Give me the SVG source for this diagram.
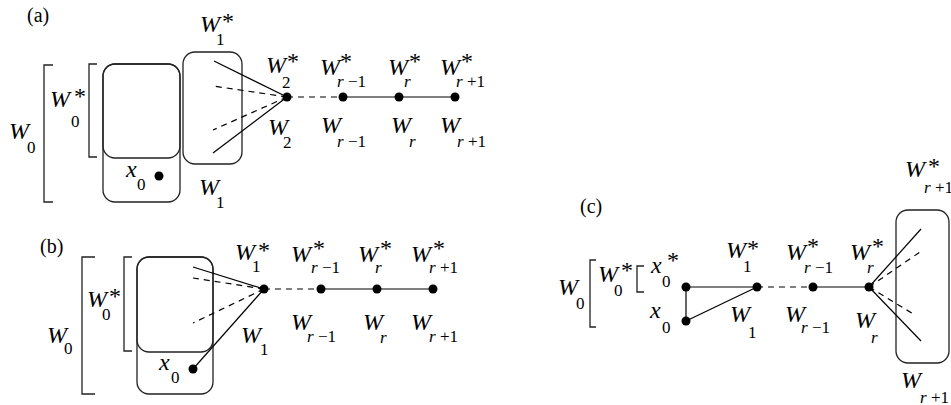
<svg xmlns="http://www.w3.org/2000/svg" width="951" height="405" viewBox="0 0 951 405">
<style>
text{font-family:"Liberation Serif","Times New Roman",serif;fill:#000}
.W{font-size:24px;font-style:italic}
.s{font-size:17px}
.i{font-style:italic}
.st{font-size:24px}
.lb{font-size:20px}
.box{fill:none;stroke:#222;stroke-width:1.3}
.br{fill:none;stroke:#222;stroke-width:1.3}
.ln{fill:none;stroke:#000;stroke-width:1.2}
.d{stroke-dasharray:6,5}
.dot{fill:#000}
</style>
<rect width="951" height="405" fill="#fff"/>

<!-- (a) -->
<text class="lb" x="27" y="22">(a)</text>
<g id="a-brackets">
<path class="br" d="M53,65H44V202H53"/>
<path class="br" d="M97,64H89V157H97"/>
<text class="W" x="9" y="139">W</text><text class="s" x="27" y="153">0</text>
<text class="W" x="50" y="107">W</text><text class="st" x="74" y="104">*</text><text class="s" x="71" y="127">0</text>
</g>
<g id="a-W0">
<rect class="box" x="103" y="64" width="77" height="138" rx="12"/>
<rect class="box" x="103" y="64" width="77" height="94" rx="12"/>
</g>
<g id="a-x0">
<circle class="dot" cx="159" cy="176" r="4.5"/>
<text class="W" x="126" y="177">x</text><text class="s" x="137" y="190">0</text>
</g>
<g id="a-W1">
<rect class="box" x="183" y="52" width="59" height="112" rx="12"/>
<text class="W" x="200" y="32">W</text><text class="st" x="222" y="29">*</text><text class="s" x="216" y="45">1</text>
<text class="W" x="199" y="195">W</text><text class="s" x="216" y="208">1</text>
</g>
<g id="a-W2">
<circle class="dot" cx="287" cy="97" r="4.5"/>
<text class="W" x="266" y="73">W</text><text class="st" x="287" y="69">*</text><text class="s" x="282" y="88">2</text>
<text class="W" x="268" y="135">W</text><text class="s" x="283" y="148">2</text>
</g>
<g id="a-Wr-1">
<circle class="dot" cx="343" cy="97" r="4.5"/>
<text class="W" x="320" y="75">W</text><text class="st" x="340" y="69">*</text><text class="s" x="337" y="87"><tspan class="i">r</tspan> −1</text>
<text class="W" x="321" y="133">W</text><text class="s" x="337" y="147"><tspan class="i">r</tspan> −1</text>
</g>
<g id="a-Wr">
<circle class="dot" cx="399" cy="97" r="4.5"/>
<text class="W" x="388" y="75">W</text><text class="st" x="409" y="69">*</text><text class="s i" x="404" y="87">r</text>
<text class="W" x="391" y="133">W</text><text class="s i" x="409" y="147">r</text>
</g>
<g id="a-Wr+1">
<circle class="dot" cx="455" cy="97" r="4.5"/>
<text class="W" x="440" y="75">W</text><text class="st" x="461" y="69">*</text><text class="s" x="456" y="87"><tspan class="i">r</tspan> +1</text>
<text class="W" x="440" y="133">W</text><text class="s" x="457" y="147"><tspan class="i">r</tspan> +1</text>
</g>

<!-- (b) -->
<text class="lb" x="40" y="253">(b)</text>
<g id="b-brackets">
<path class="br" d="M95,257H82V394H95"/>
<path class="br" d="M132,257H124V351H132"/>
<text class="W" x="47" y="343">W</text><text class="s" x="64" y="354">0</text>
<text class="W" x="87" y="307">W</text><text class="st" x="109" y="304">*</text><text class="s" x="102" y="320">0</text>
</g>
<g id="b-W0">
<rect class="box" x="137" y="257" width="76" height="137" rx="12"/>
<rect class="box" x="137" y="257" width="76" height="95" rx="12"/>
</g>
<g id="b-x0">
<circle class="dot" cx="193" cy="369" r="4.5"/>
<text class="W" x="159" y="370">x</text><text class="s" x="171" y="383">0</text>
</g>
<g id="b-W1">
<circle class="dot" cx="264" cy="289" r="4.5"/>
<text class="W" x="235" y="260">W</text><text class="st" x="258" y="258">*</text><text class="s" x="252" y="272">1</text>
<text class="W" x="241" y="343">W</text><text class="s" x="260" y="355">1</text>
</g>
<g id="b-Wr-1">
<circle class="dot" cx="321" cy="289" r="4.5"/>
<text class="W" x="291" y="262">W</text><text class="st" x="313" y="256">*</text><text class="s" x="311" y="273"><tspan class="i">r</tspan> −1</text>
<text class="W" x="291" y="330">W</text><text class="s" x="307" y="342"><tspan class="i">r</tspan> −1</text>
</g>
<g id="b-Wr">
<circle class="dot" cx="377" cy="289" r="4.5"/>
<text class="W" x="358" y="262">W</text><text class="st" x="380" y="256">*</text><text class="s i" x="375" y="273">r</text>
<text class="W" x="363" y="330">W</text><text class="s i" x="380" y="343">r</text>
</g>
<g id="b-Wr+1">
<circle class="dot" cx="433" cy="289" r="4.5"/>
<text class="W" x="411" y="262">W</text><text class="st" x="433" y="256">*</text><text class="s" x="429" y="273"><tspan class="i">r</tspan> +1</text>
<text class="W" x="411" y="330">W</text><text class="s" x="429" y="342"><tspan class="i">r</tspan> +1</text>
</g>

<!-- (c) -->
<text class="lb" x="580" y="213">(c)</text>
<g id="c-brackets">
<path class="br" d="M596,260H590V327H596"/>
<path class="br" d="M644,266H637V292H644"/>
<text class="W" x="558" y="295">W</text><text class="s" x="576" y="309">0</text>
<text class="W" x="598" y="282">W</text><text class="st" x="621" y="278">*</text><text class="s" x="614" y="296">0</text>
</g>
<g id="c-x0s">
<circle class="dot" cx="686" cy="287" r="4.5"/>
<text class="W" x="651" y="273">x</text><text class="st" x="667" y="268">*</text><text class="s" x="662" y="287">0</text>
</g>
<g id="c-x0">
<circle class="dot" cx="686" cy="321" r="4.5"/>
<text class="W" x="650" y="318">x</text><text class="s" x="662" y="333">0</text>
</g>
<g id="c-W1">
<circle class="dot" cx="757" cy="287" r="4.5"/>
<text class="W" x="726" y="258">W</text><text class="st" x="747" y="256">*</text><text class="s" x="743" y="272">1</text>
<text class="W" x="730" y="322">W</text><text class="s" x="748" y="338">1</text>
</g>
<g id="c-Wr-1">
<circle class="dot" cx="813" cy="287" r="4.5"/>
<text class="W" x="786" y="260">W</text><text class="st" x="807" y="254">*</text><text class="s" x="804" y="273"><tspan class="i">r</tspan> −1</text>
<text class="W" x="785" y="322">W</text><text class="s" x="801" y="333"><tspan class="i">r</tspan> −1</text>
</g>
<g id="c-Wr">
<circle class="dot" cx="869" cy="287" r="4.5"/>
<text class="W" x="850" y="260">W</text><text class="st" x="872" y="254">*</text><text class="s i" x="867" y="273">r</text>
<text class="W" x="855" y="328">W</text><text class="s i" x="871" y="343">r</text>
</g>
<g id="c-Wr+1">
<rect class="box" x="896" y="210" width="53" height="153" rx="12"/>
<text class="W" x="905" y="177">W</text><text class="st" x="928" y="174">*</text><text class="s" x="924" y="193"><tspan class="i">r</tspan> +1</text>
<text class="W" x="901" y="388">W</text><text class="s" x="920" y="403"><tspan class="i">r</tspan> +1</text>
</g>

<g id="connectors">
<!-- (a) -->
<path class="ln" d="M287,97L214,61"/>
<path class="ln d" d="M287,97L213,86"/>
<path class="ln d" d="M287,97L213,130"/>
<path class="ln" d="M287,97L213,153"/>
<path class="ln d" d="M287,97H343"/>
<path class="ln" d="M343,97H455"/>
<!-- (b) -->
<path class="ln" d="M264,289L193,267"/>
<path class="ln d" d="M264,289L193,278"/>
<path class="ln d" d="M264,289L193,323"/>
<path class="ln" d="M264,289L193,369"/>
<path class="ln d" d="M264,289H321"/>
<path class="ln" d="M321,289H433"/>
<!-- (c) -->
<path class="ln" d="M686,287H757"/>
<path class="ln" d="M686,287V321" stroke="#555" stroke-width="1.6"/>
<path class="ln" d="M686,321L757,287"/>
<path class="ln d" d="M757,287H813"/>
<path class="ln" d="M813,287H869"/>
<path class="ln" d="M869,287L921,229"/>
<path class="ln d" d="M869,287L920,252"/>
<path class="ln d" d="M869,287L915,315"/>
<path class="ln" d="M869,287L921,341"/>
</g>
</svg>
